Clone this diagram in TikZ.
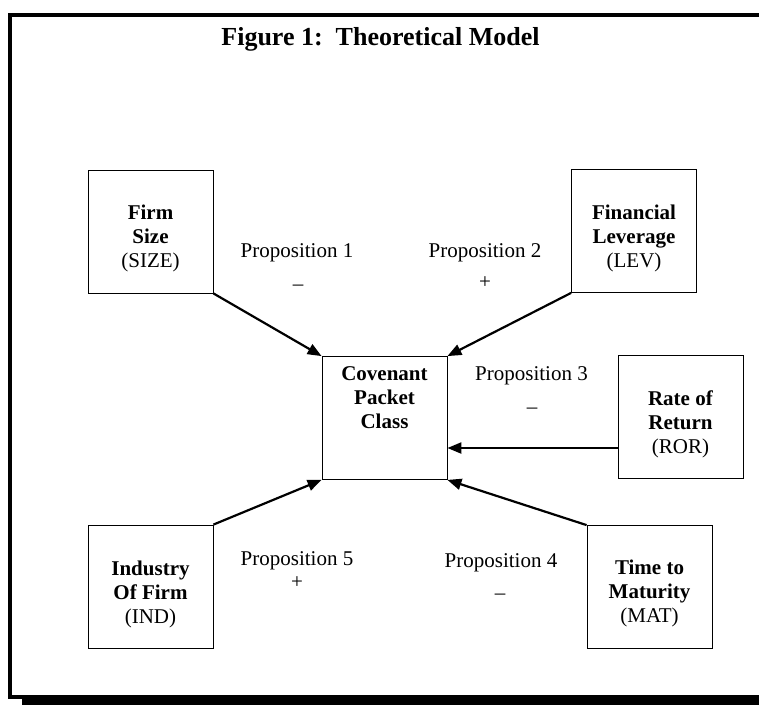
\documentclass[tikz,border=0pt]{standalone}
\usepackage{fontspec}
\setmainfont{Liberation Serif}
\usetikzlibrary{arrows.meta,calc}
\begin{document}
\begin{tikzpicture}[x=1pt,y=-1pt,
  box/.style={draw, line width=0.8pt, minimum width=125pt, minimum height=123pt, inner sep=0pt},
  boxtext/.style={align=center, inner sep=0pt, anchor=north, font=\fontsize{21}{24}\selectfont},
  prop/.style={inner sep=0pt, anchor=base, font=\fontsize{21}{24}\selectfont},
  conn/.style={line width=2.2pt, -{Triangle[length=14pt,width=11pt]}}]
\useasboundingbox (0,0) rectangle (759,704);
\clip (0,0) rectangle (759,704);
% frame with shadow
\fill[black] (22,697) rectangle (800,720);
\draw[line width=4pt, fill=white] (10,15) rectangle (790,697);
% title
\node[inner sep=0pt, anchor=base, font=\bfseries\fontsize{26}{30}\selectfont] (title) at (380.5,45) {Figure 1:\ \ Theoretical Model};
% boxes
\node[box] (firm) at (150.5,231.5) {};
\node[box] (lev)  at (634,231) {};
\node[box] (cov)  at (384.5,418) {};
\node[box] (ror)  at (680.5,416.5) {};
\node[box] (ind)  at (150.5,586.5) {};
\node[box] (mat)  at (649.5,587) {};
% box texts
\node[boxtext] (firmt) at (150.5,205) {\textbf{Firm}\\\textbf{Size}\\(SIZE)};
\node[boxtext] (levt)  at (634,205) {\textbf{Financial}\\\textbf{Leverage}\\(LEV)};
\node[boxtext] (covt)  at (384.5,366) {\textbf{Covenant}\\\textbf{Packet}\\\textbf{Class}};
\node[boxtext] (rort)  at (680.5,391) {\textbf{Rate of}\\\textbf{Return}\\(ROR)};
\node[boxtext] (indt)  at (150.5,561) {\textbf{Industry}\\\textbf{Of Firm}\\(IND)};
\node[boxtext] (matt)  at (649.5,560) {\textbf{Time to}\\\textbf{Maturity}\\(MAT)};
% proposition labels
\node[prop] (p1)  at (297,257) {Proposition 1};
\node[prop] (p1s) at (298,290) {–};
\node[prop] (p2)  at (485,257) {Proposition 2};
\node[prop] (p2s) at (485,288) {+};
\node[prop] (p3)  at (531.5,380) {Proposition 3};
\node[prop] (p3s) at (532,413) {–};
\node[prop] (p5)  at (297,565) {Proposition 5};
\node[prop] (p5s) at (297,588) {+};
\node[prop] (p4)  at (501,567) {Proposition 4};
\node[prop] (p4s) at (500,599) {–};
% connectors
\draw[conn] (firm.south east) -- (cov.north west);
\draw[conn] (lev.south west) -- (cov.north east);
\draw[conn] ([yshift=-31.5pt]ror.west) -- ([yshift=-31.5pt]ror.west -| cov.east);
\draw[conn] (ind.north east) -- (cov.south west);
\draw[conn] (mat.north west) -- (cov.south east);
\end{tikzpicture}
\end{document}
